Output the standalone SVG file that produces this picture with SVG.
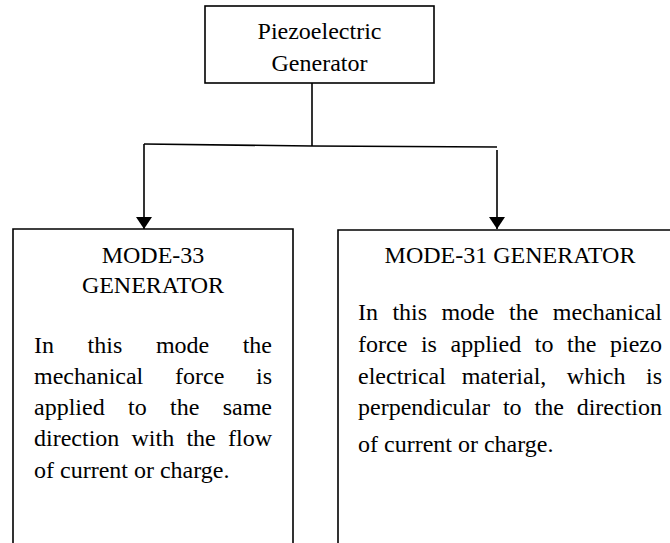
<svg xmlns="http://www.w3.org/2000/svg" width="670" height="543" viewBox="0 0 670 543">
<style>
.box{fill:none;stroke:#000;stroke-width:1.6}
.ln{fill:none;stroke:#000;stroke-width:1.6}
text{font-family:"Liberation Serif","Times New Roman",serif;font-size:24px;fill:#000}
.c{text-anchor:middle}
</style>
<defs>
<marker id="ah" markerWidth="13" markerHeight="17" refX="12" refY="8" orient="auto" markerUnits="userSpaceOnUse">
<path d="M0,0 L12,8 L0,16 Z" fill="#000"/>
</marker>
</defs>
<rect width="670" height="543" fill="#fff"/>
<g id="connectors">
<line class="ln" x1="312" y1="83" x2="312" y2="146"/>
<polyline class="ln" points="144,144 312,146 497,147"/>
<line class="ln" x1="144" y1="144" x2="144" y2="229" marker-end="url(#ah)"/>
<line class="ln" x1="497" y1="150" x2="497" y2="229" marker-end="url(#ah)"/>
</g>
<g id="piezo">
<rect class="box" x="205" y="6" width="229" height="77"/>
<text class="c" x="319.5" y="39">Piezoelectric</text>
<text class="c" x="319.5" y="71">Generator</text>
</g>
<g id="mode33">
<path class="box" d="M13,545 V229 H293 V545"/>
<text class="c" x="153" y="263">MODE-33</text>
<text class="c" x="153" y="293">GENERATOR</text>
<text y="353"><tspan x="34">In</tspan><tspan x="87.6">this</tspan><tspan x="155.9">mode</tspan><tspan x="272" text-anchor="end">the</tspan></text>
<text y="384"><tspan x="34">mechanical</tspan><tspan x="175">force</tspan><tspan x="272" text-anchor="end">is</tspan></text>
<text y="415"><tspan x="34">applied</tspan><tspan x="128">to</tspan><tspan x="170">the</tspan><tspan x="272" text-anchor="end">same</tspan></text>
<text y="446"><tspan x="34">direction</tspan><tspan x="131.5">with</tspan><tspan x="186.4">the</tspan><tspan x="272" text-anchor="end">flow</tspan></text>
<text x="34" y="478">of current or charge.</text>
</g>
<g id="mode31">
<path class="box" d="M672,230 H338 V545"/>
<text class="c" x="510" y="263">MODE-31 GENERATOR</text>
<text y="320"><tspan x="358">In</tspan><tspan x="392.4">this</tspan><tspan x="441.4">mode</tspan><tspan x="509.1">the</tspan><tspan x="662" text-anchor="end">mechanical</tspan></text>
<text y="352"><tspan x="358">force</tspan><tspan x="420.9">is</tspan><tspan x="450.5">applied</tspan><tspan x="534.8">to</tspan><tspan x="567.1">the</tspan><tspan x="662" text-anchor="end">piezo</tspan></text>
<text y="384"><tspan x="358">electrical</tspan><tspan x="461.7">material,</tspan><tspan x="566.8">which</tspan><tspan x="662" text-anchor="end">is</tspan></text>
<text y="415"><tspan x="358">perpendicular</tspan><tspan x="502.9">to</tspan><tspan x="534.5">the</tspan><tspan x="662" text-anchor="end">direction</tspan></text>
<text x="358" y="452">of current or charge.</text>
</g>
</svg>
